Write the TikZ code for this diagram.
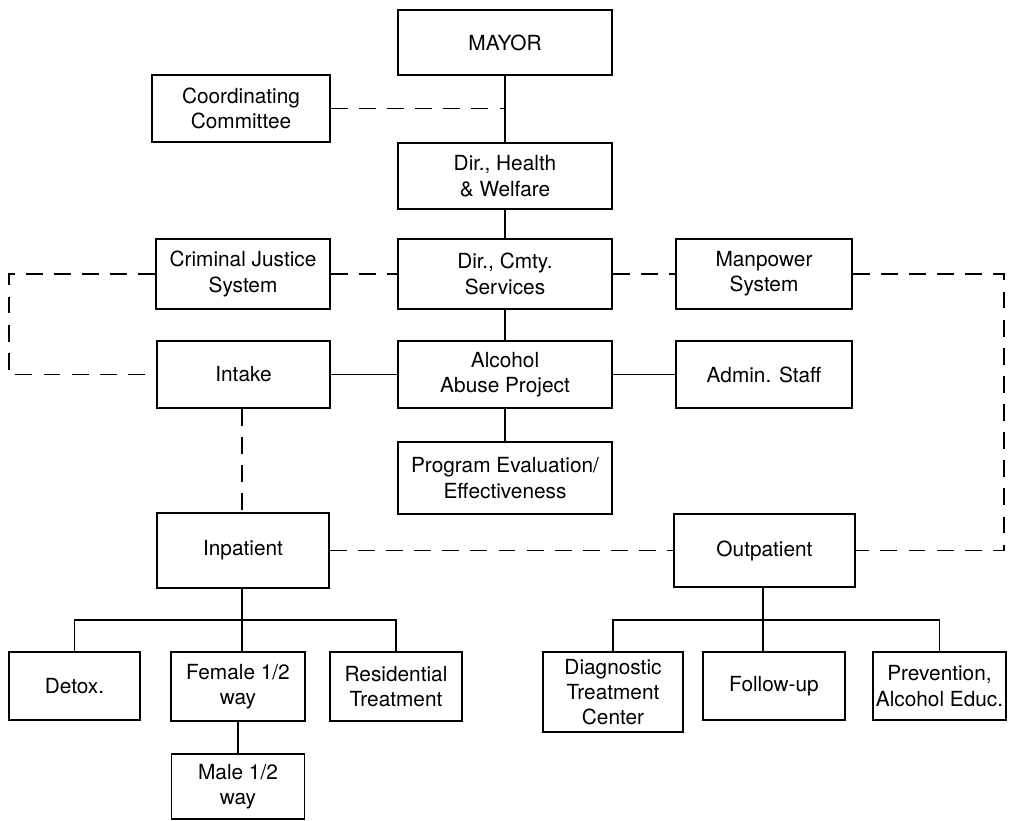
\documentclass[tikz,border=0pt]{standalone}
\usepackage{fontspec}
\setmainfont{TeX Gyre Heros}
\usepackage{tikz}

\tikzset{
	orgbox/.style={draw, line width=1.2pt, align=center, inner sep=1pt,
		font=\fontsize{14.8}{18}\selectfont},
	midbox/.style={orgbox, minimum width=5.35cm, minimum height=1.65cm},
	sidebox/.style={orgbox, minimum width=4.4cm, minimum height=1.7cm},
	lowbox/.style={orgbox, minimum width=3.3cm, minimum height=1.7cm},
	link/.style={line width=1.2pt},
	dashlink/.style={line width=1.2pt, dash pattern=on 12pt off 8pt}
}

\begin{document}
\begin{tikzpicture}[x=0.025cm, y=-0.025cm]
			\useasboundingbox (0,0) rectangle (1009,821);
			\node[midbox, minimum height=1.62cm] (mayor) at (505,42.5) {MAYOR};
			\node[sidebox, minimum width=4.45cm, minimum height=1.68cm] (coord) at (241,108.5) {Coordinating\\Committee};
			\node[midbox] (health) at (505,176) {Dir., Health\\\& Welfare};
			\node[sidebox, minimum width=4.35cm, minimum height=1.75cm] (crim) at (243,274) {Criminal Justice\\System};
			\node[midbox, minimum height=1.75cm] (cmty) at (505,274) {Dir., Cmty.\\Services};
			\node[sidebox, minimum height=1.75cm] (manpower) at (764,274) {Manpower\\System};
			\node[sidebox, minimum width=4.33cm, minimum height=1.68cm] (intake) at (243.5,374.5) {Intake};
			\node[midbox, minimum height=1.68cm] (alcohol) at (505,374.5) {Alcohol\\Abuse Project};
			\node[sidebox, minimum height=1.68cm] (admin) at (764,374.5) {Admin. Staff};
			\node[midbox, minimum height=1.8cm] (progeval) at (505,478) {Program Evaluation/\\Effectiveness};
			\node[sidebox, minimum width=4.3cm, minimum height=1.88cm] (inpatient) at (243,550.5) {Inpatient};
			\node[sidebox, minimum width=4.52cm, minimum height=1.83cm] (outpatient) at (764.5,550.5) {Outpatient};
			\node[lowbox, minimum width=3.28cm] (detox) at (74.5,686) {Detox.};
			\node[lowbox, minimum width=3.35cm, minimum height=1.72cm] (female) at (238,686.5) {Female 1/2\\way};
			\node[lowbox, minimum height=1.72cm] (residential) at (396,686.5) {Residential\\Treatment};
			\node[lowbox, minimum width=3.33cm, minimum height=1.62cm] (male) at (238,786.5) {Male 1/2\\way};
			\node[lowbox, minimum width=3.5cm, minimum height=2cm] (diagnostic) at (613,692) {Diagnostic\\Treatment\\Center};
			\node[lowbox, minimum width=3.55cm] (followup) at (774,686) {Follow-up};
			\node[lowbox, minimum width=3.33cm] (prevention) at (939.5,686) {Prevention,\\Alcohol Educ.};
			\coordinate (lft) at (9,0);
			\coordinate (rgt) at (1004,0);
			\coordinate (inbus) at (242,620);
			\coordinate (outbus) at (763,620);
			\draw[link] (mayor) -- (health) -- (cmty) -- (alcohol) -- (progeval);
			\draw[link] (intake) -- (alcohol) -- (admin);
			\draw[dashlink] (coord.east) -- (coord.east -| mayor.south);
			\draw[dashlink] (crim.east) -- (cmty.west);
			\draw[dashlink] (cmty.east) -- (manpower.west);
			\draw[dashlink] 
				(crim.west) 
				-- (crim.west -| lft) 
				|- (intake.west);
			\draw[dashlink] 
				(manpower.east) 
				-- (manpower.east -| rgt) 
				|- (outpatient.east);
			\draw[dashlink] (intake.south -| inbus) -- (inpatient.north -| inbus);
			\draw[dashlink] (inpatient.east) -- (outpatient.west);
			\draw[link] (inpatient.south -| inbus) -- (female.north -| inbus);
			\draw[link] 
				(detox.north) 
				-- (detox.north |- inbus) 
				-- (residential.north |- inbus) 
				-- (residential.north);
			\draw[link] (female) -- (male);
			\draw[link] (outpatient.south -| outbus) -- (followup.north -| outbus);
			\draw[link] 
				(diagnostic.north) 
				-- (diagnostic.north |- outbus) 
				-- (prevention.north |- outbus) 
				-- (prevention.north);
		\end{tikzpicture}
\end{document}
